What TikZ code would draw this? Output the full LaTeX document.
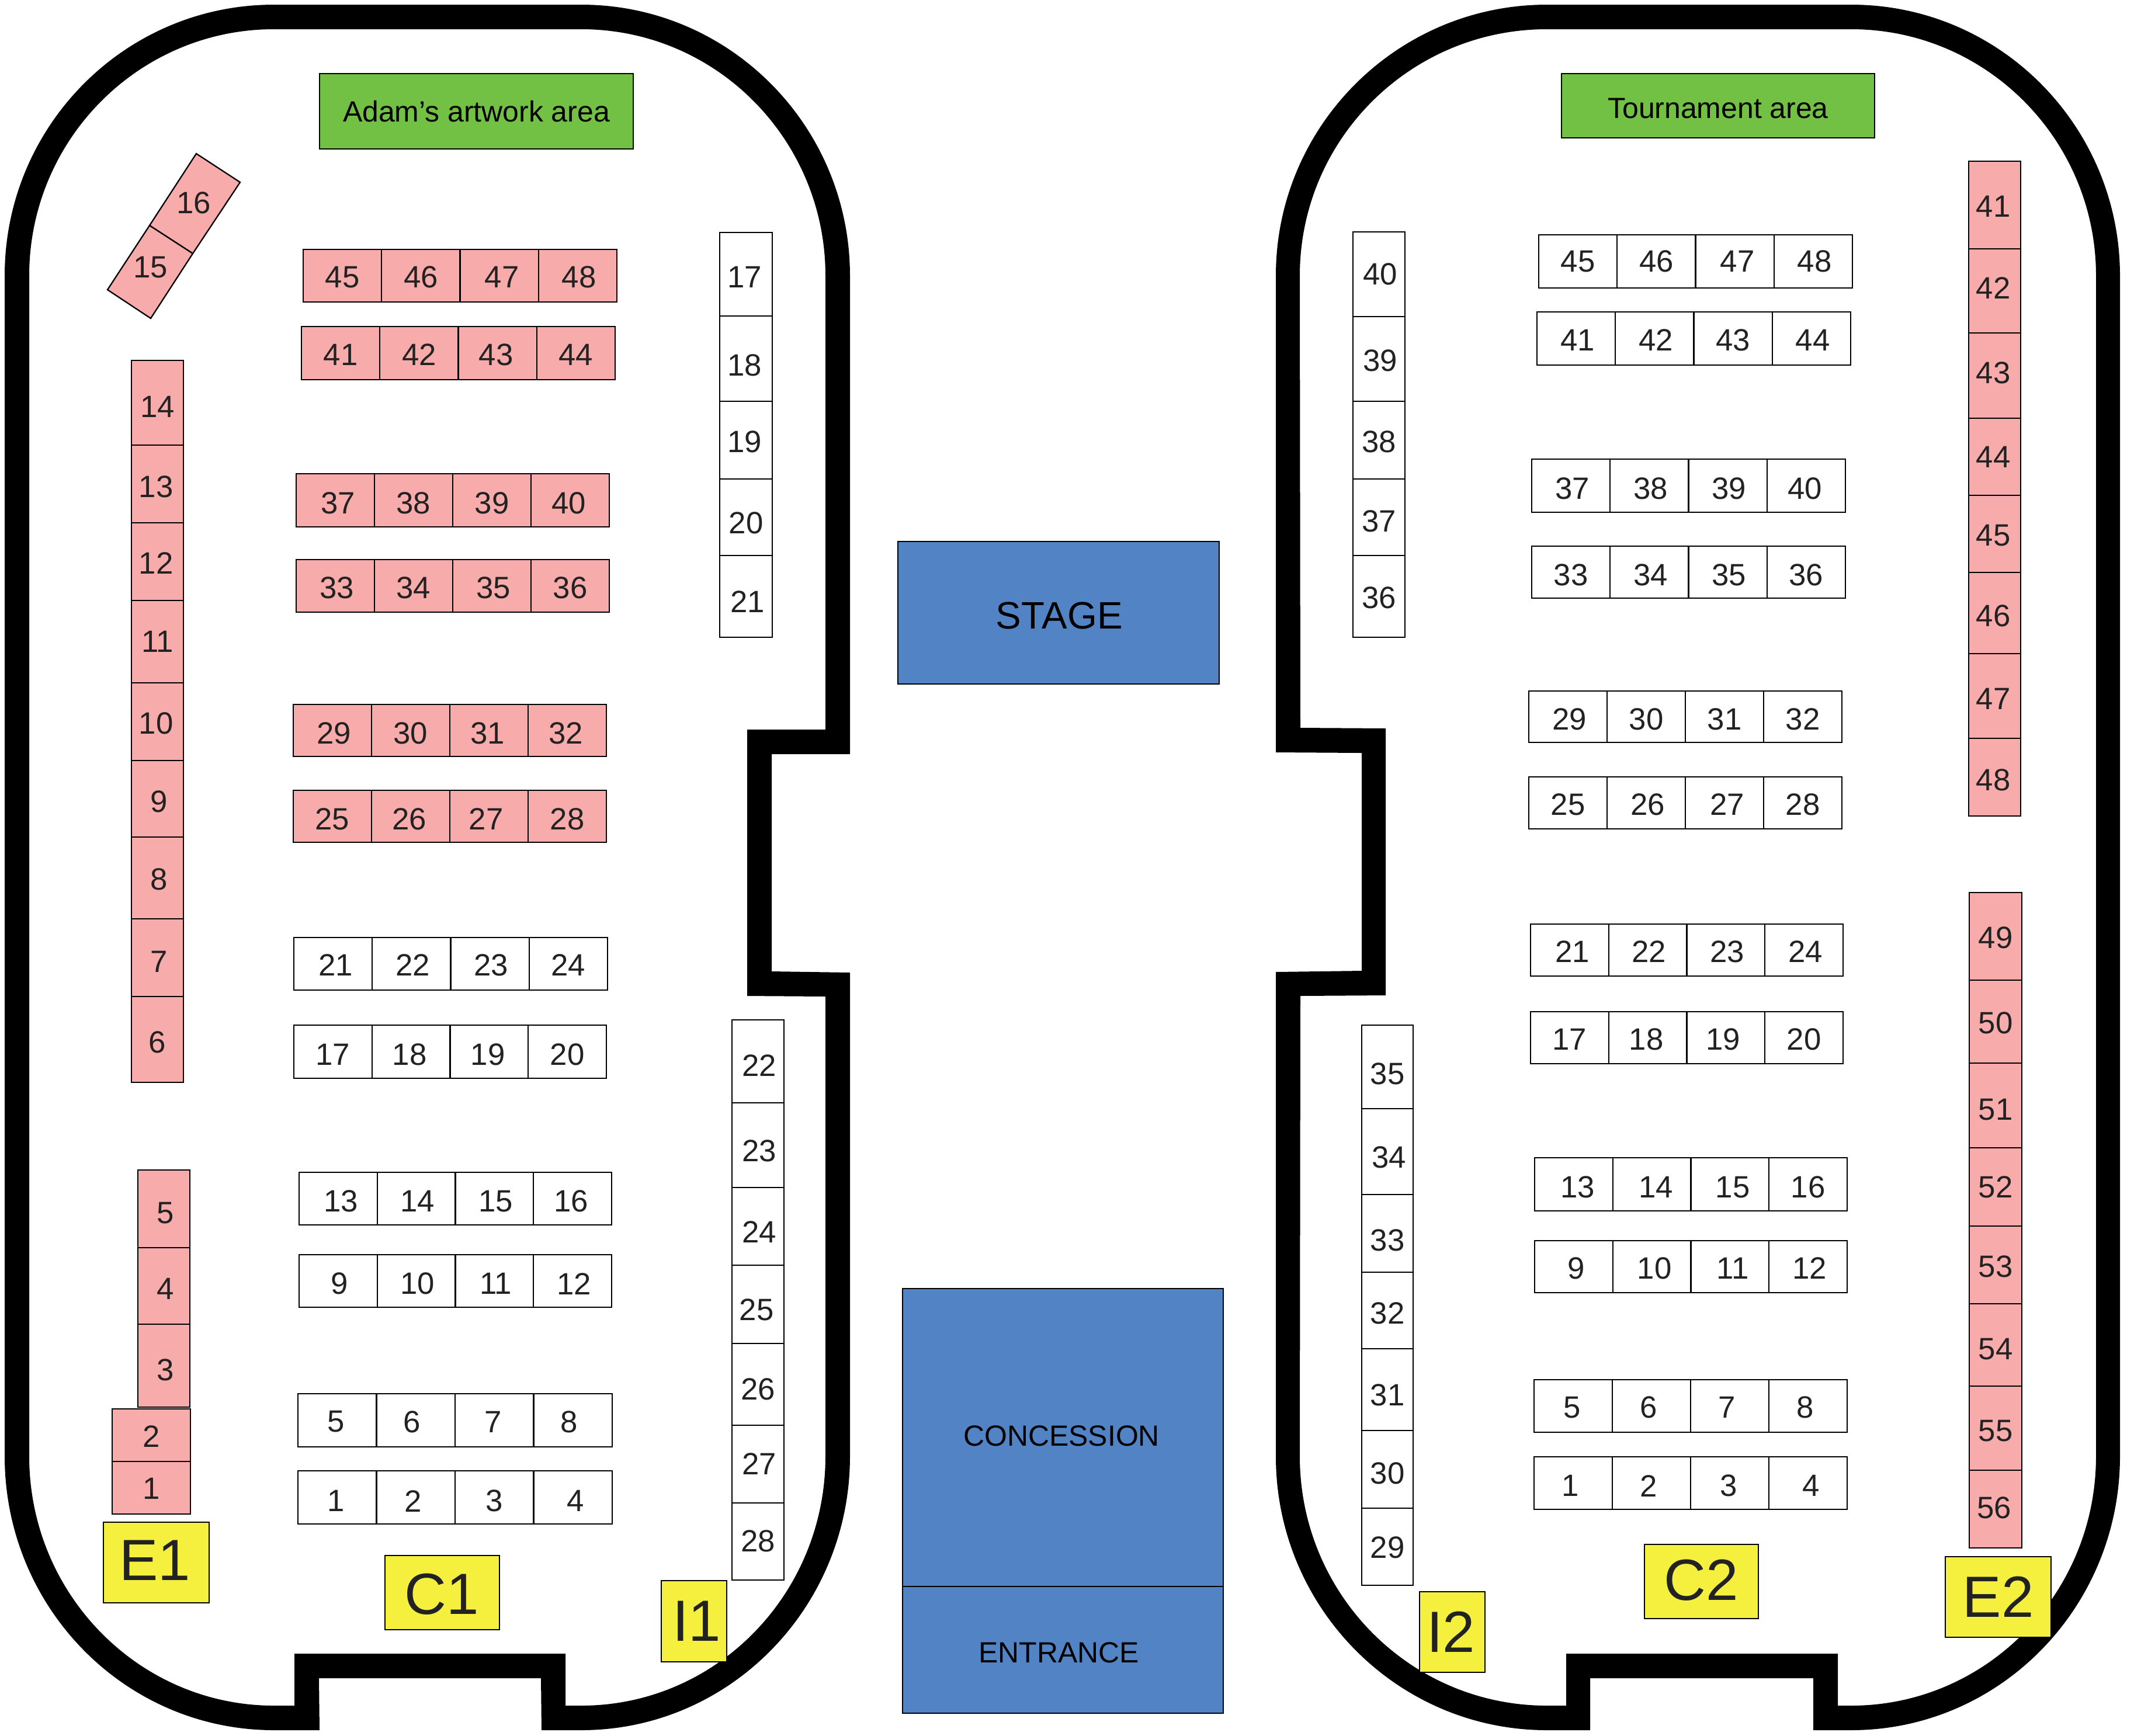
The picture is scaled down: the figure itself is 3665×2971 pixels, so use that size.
\documentclass[tikz,border=0pt]{standalone}
\usepackage{fontspec}
\setmainfont{Liberation Sans}
\definecolor{pinkc}{HTML}{F7ABAB}
\definecolor{greenc}{HTML}{72C044}
\definecolor{bluec}{HTML}{5283C5}
\definecolor{yellowc}{HTML}{F5EF3D}
\definecolor{inkc}{HTML}{222222}
\newcounter{boothid}
\tikzset{
  boothbase/.style={draw=black,line width=0.65pt,inner sep=0pt,outer sep=0pt,text=inkc,font=\fontsize{15}{18}\selectfont},
  pinkbooth/.style={boothbase,fill=pinkc},
  whitebooth/.style={boothbase,fill=white},
  greenarea/.style={boothbase,fill=greenc,text=black,font=\fontsize{14.2}{17}\selectfont},
  bluearea/.style={boothbase,fill=bluec,text=black,font=\fontsize{14.2}{17}\selectfont},
  stagearea/.style={bluearea,font=\fontsize{18.6}{22}\selectfont},
  tagbox/.style={boothbase,fill=yellowc,font=\fontsize{28.3}{34}\selectfont},
  wallfill/.style={fill=black,even odd rule,draw=none}
}
% x1 y1 x2 y2 style label dx dy (offsets of the label)
\newcommand\boothcell[8]{%
  \pgfmathsetmacro\cellw{(#3-#1)*0.01}%
  \pgfmathsetmacro\cellh{(#4-#2)*0.01}%
  \stepcounter{boothid}%
  \node[#5,minimum width=\cellw cm,minimum height=\cellh cm] (b\theboothid) at ({(#1+#3)/2},{(#2+#4)/2}) {};%
  \node[#5,draw=none,fill=none] (t\theboothid) at ({(#1+#3)/2+(#7)*2.337},{(#2+#4)/2+(#8)*2.337}) {#6};%
}
% x1 y1 x2 y2 style dy {label/dx,...}
\newcommand\boothrow[7]{%
  \foreach \lab/\ldx [count=\ci from 0] in {#7} {%
    \pgfmathsetmacro\xa{#1+\ci*(#3-#1)/4}%
    \pgfmathsetmacro\xb{#1+(\ci+1)*(#3-#1)/4}%
    \boothcell{\xa}{#2}{\xb}{#4}{#5}{\lab}{\ldx}{#6}%
  }%
}
% x1 x2 style {y1/y2/label/dx/dy,...}
\newcommand\boothcol[4]{%
  \foreach \ya/\yb/\lab/\ldx/\ldy in {#4} {\boothcell{#1}{\ya}{#2}{\yb}{#3}{\lab}{\ldx}{\ldy}}%
}
\begin{document}
\begin{tikzpicture}[x=0.01cm,y=-0.01cm]
\useasboundingbox (0,0) rectangle (3665,2971);
% left hall wall
\path[wallfill]
  (8,472) .. controls (8,216) and (214,8) .. (469,8) -- (995,8)
  .. controls (1249,8) and (1455,216) .. (1455,472) -- (1455,1291) -- (1321,1291) -- (1321,1663) -- (1455,1665)
  -- (1455,2493) .. controls (1455,2752) and (1249,2962) .. (995,2962)
  -- (927,2962) -- (926,2873) -- (546,2873) -- (547,2962) -- (469,2962)
  .. controls (214,2962) and (8,2752) .. (8,2493) -- cycle
  (50,472) .. controls (50,239) and (238,50) .. (469,50) -- (995,50)
  .. controls (1226,50) and (1413,239) .. (1413,472) -- (1413,1249) -- (1279,1249) -- (1279,1705) -- (1413,1706)
  -- (1413,2493) .. controls (1413,2729) and (1226,2920) .. (995,2920)
  -- (968,2920) -- (968,2831) -- (504,2831) -- (504,2920) -- (469,2920)
  .. controls (238,2920) and (50,2729) .. (50,2493) -- cycle;
% right hall wall
\path[wallfill]
  (2184,472) .. controls (2184,216) and (2392,8) .. (2648,8) -- (3169,8)
  .. controls (3423,8) and (3629,216) .. (3629,472) -- (3629,2493)
  .. controls (3629,2752) and (3423,2962) .. (3169,2962)
  -- (3104,2962) -- (3104,2873) -- (2722,2873) -- (2722,2962) -- (2648,2962)
  .. controls (2392,2962) and (2184,2752) .. (2184,2493) -- (2184,1664) -- (2331,1662) -- (2331,1289) -- (2184,1288) -- cycle
  (2225,472) .. controls (2225,239) and (2414,50) .. (2648,50) -- (3169,50)
  .. controls (3400,50) and (3588,239) .. (3588,472) -- (3588,2493)
  .. controls (3588,2729) and (3400,2920) .. (3169,2920)
  -- (3146,2920) -- (3146,2831) -- (2681,2831) -- (2681,2920) -- (2648,2920)
  .. controls (2414,2920) and (2225,2729) .. (2225,2493) -- (2226,1705) -- (2372,1704) -- (2372,1247) -- (2226,1246) -- cycle;
% centre
\boothcell{1537}{927}{2087}{1171}{stagearea}{STAGE}{0.5}{2}
\boothcell{1545}{2206}{2094}{2716}{bluearea}{CONCESSION}{-1}{-1}
\boothcell{1545}{2716}{2094}{2933}{bluearea}{ENTRANCE}{-3}{2}
% green areas
\boothcell{547}{126}{1084}{255}{greenarea}{Adam’s artwork area}{0}{0}
\boothcell{2673}{126}{3209}{236}{greenarea}{Tournament area}{0}{2}
% left hall rows
\boothrow{519}{427}{1056}{517}{pinkbooth}{1}{45/0,46/0,47/2,48/1}
\boothrow{516}{559}{1053}{650}{pinkbooth}{1}{41/0,42/0,43/-1,44/0}
\boothrow{507}{811}{1043}{902}{pinkbooth}{2}{37/2,38/0,39/0,40/-1}
\boothrow{507}{958}{1043}{1048}{pinkbooth}{1.5}{33/1,34/0,35/1,36/0}
\boothrow{502}{1206}{1038}{1295}{pinkbooth}{2}{29/1,30/0,31/-1,32/-1}
\boothrow{502}{1353}{1038}{1442}{pinkbooth}{2}{25/0,26/-1,27/-2,28/0}
\boothrow{503}{1605}{1040}{1695}{whitebooth}{1}{21/2,22/1,23/1,24/0}
\boothrow{503}{1755}{1038}{1846}{whitebooth}{2}{17/0,18/-1,19/-1,20/0}
\boothrow{512}{2007}{1047}{2097}{whitebooth}{2}{13/2,14/1,15/1,16/-1}
\boothrow{512}{2148}{1047}{2238}{whitebooth}{2}{9/1,10/1,11/1,12/1}
\boothrow{510}{2386}{1048}{2477}{whitebooth}{1}{5/-1,6/-3,7/-1,8/-3}
\boothrow{510}{2518}{1048}{2609}{whitebooth}{2.6}{1/-1,2/-2,3/0,4/2}
% right hall rows
\boothrow{2634}{402}{3171}{493}{whitebooth}{0}{45/0,46/0,47/2,48/1}
\boothrow{2631}{534}{3168}{625}{whitebooth}{1}{41/1,42/1,43/0,44/1}
\boothrow{2622}{786}{3159}{877}{whitebooth}{2}{37/1,38/1,39/1,40/-1}
\boothrow{2622}{935}{3159}{1024}{whitebooth}{2}{33/0,34/1,35/1,36/0}
\boothrow{2617}{1183}{3153}{1271}{whitebooth}{2}{29/1,30/0,31/0,32/0}
\boothrow{2617}{1330}{3153}{1419}{whitebooth}{1}{25/0,26/1,27/2,28/0}
\boothrow{2620}{1582}{3155}{1671}{whitebooth}{1}{21/2,22/1,23/1,24/1}
\boothrow{2620}{1732}{3155}{1821}{whitebooth}{1}{17/0,18/-1,19/-2,20/0}
\boothrow{2627}{1982}{3162}{2073}{whitebooth}{2}{13/3,14/3,15/2,16/0}
\boothrow{2627}{2124}{3162}{2213}{whitebooth}{1}{9/2,10/2,11/2,12/1}
\boothrow{2626}{2362}{3162}{2452}{whitebooth}{1}{5/-1,6/-2,7/-2,8/-2}
\boothrow{2626}{2494}{3162}{2584}{whitebooth}{2}{1/-2,2/-2,3/-1,4/2}
% left hall columns
\boothcol{225}{314}{pinkbooth}{617/762/14/0/3,762/895/13/-1/2,895/1028/12/-1/1,1028/1169/11/0/0,1169/1302/10/-1/1,1302/1433/9/1/2,1433/1573/8/1/1,1573/1706/7/1/3,1706/1853/6/0/2}
\boothcol{236}{325}{pinkbooth}{2003/2136/5/1/3,2136/2267/4/1/2,2267/2409/3/1/3}
\boothcol{192}{326}{pinkbooth}{2412/2502/2/0/1,2502/2592/1/0/0.5}
\boothcol{1232}{1322}{whitebooth}{398/541/17/-1/2,541/687/18/-1/5,687/820/19/-1/1,820/951/20/0/4,951/1091/21/1/4}
\boothcol{1253}{1342}{whitebooth}{1746/1888/22/1/3,1888/2033/23/1/4,2033/2166/24/1/4,2166/2300/25/-1/4,2300/2440/26/0/3.5,2440/2573/27/1/0,2573/2705/28/0/-0.5}
% right hall columns
\boothcol{2316}{2405}{whitebooth}{397/542/40/1/0,542/687/39/1/1,687/820/38/0/1,820/951/37/0/3,951/1091/36/0/1}
\boothcol{2331}{2419}{whitebooth}{1755/1898/35/0/5,1898/2045/34/1/4,2045/2178/33/0/5,2178/2309/32/0/2,2309/2449/31/0/4,2449/2582/30/0/3,2582/2714/29/0/0.5}
\boothcol{3370}{3459}{pinkbooth}{276/426/41/-1/1,426/570/42/-1/-2,570/716/43/-1/-2,716/848/44/-1/0,848/980/45/-1/1,980/1119/46/-1/2,1119/1264/47/-1/2,1264/1397/48/-1/2}
\boothcol{3371}{3461}{pinkbooth}{1528/1678/49/0/1,1678/1820/50/0/1,1820/1965/51/0/3,1965/2099/52/0/0,2099/2232/53/0/1,2232/2373/54/0/3,2373/2517/55/0/2,2517/2650/56/-1/-1}
% slanted booths
\draw[boothbase,fill=pinkc] (336,263) -- (411,312) -- (330,434) -- (256,386) -- cycle;
\draw[boothbase,fill=pinkc] (256,386) -- (330,434) -- (258,545) -- (184,496) -- cycle;
\node[font=\fontsize{15}{18}\selectfont,text=inkc,inner sep=0pt] (s16) at (332,347) {16};
\node[font=\fontsize{15}{18}\selectfont,text=inkc,inner sep=0pt] (s15) at (258,458) {15};
% zone tags
\boothcell{177}{2606}{358}{2744}{tagbox}{E1}{-1}{-1.7}
\boothcell{659}{2663}{855}{2790}{tagbox}{C1}{-0.5}{1}
\boothcell{1132}{2706}{1244}{2845}{tagbox}{I1}{2}{0}
\boothcell{2430}{2725}{2542}{2863}{tagbox}{I2}{-1}{0}
\boothcell{2815}{2644}{3010}{2771}{tagbox}{C2}{0}{-1}
\boothcell{3330}{2665}{3511}{2803}{tagbox}{E2}{0}{0}
\end{tikzpicture}
\end{document}
